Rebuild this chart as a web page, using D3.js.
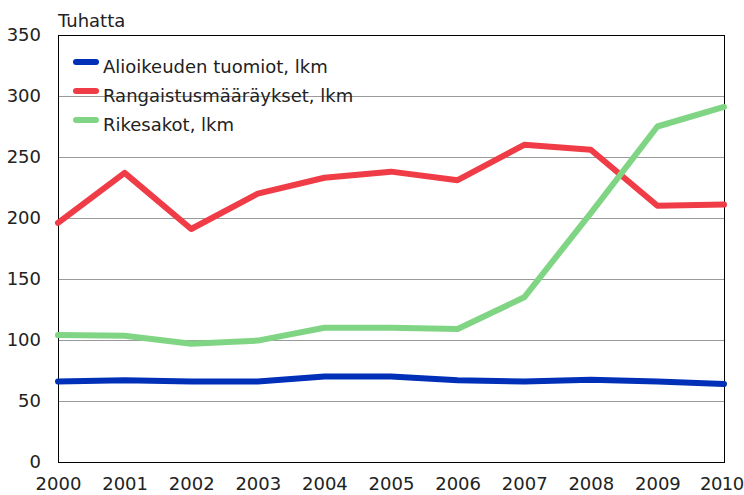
<!DOCTYPE html>
<html><head><meta charset="utf-8">
<script src="https://cdn.jsdelivr.net/npm/d3@7"></script>
<style>body{margin:0;background:#fff}svg{display:block}text{font-family:"DejaVu Sans",Verdana,sans-serif}</style>
</head><body>
<svg id="c" width="744" height="495"></svg>
<script>
const years = [2000,2001,2002,2003,2004,2005,2006,2007,2008,2009,2010];
const alioikeus = [66,67,66,66,70,70,67,66,67.5,66,64];
const rangaistus = [196,237,191,220,233,238,231,260,256,210,211];
const rikesakot = [104,103.5,97,99.5,110,110,109,135,204,275,291];
const yTicks = [0,50,100,150,200,250,300,350];
const seriesNames = ["Alioikeuden tuomiot, lkm","Rangaistusmääräykset, lkm","Rikesakot, lkm"];
const colors = ["#0030b8","#f03c46","#80d584"];

const FONT = "DejaVu Sans, Verdana, sans-serif";
const FS = 18;
const svg = d3.select("#c");
const L=58,R=724,T=35,B=462;
const x = d3.scaleLinear().domain([2000,2010]).range([L,R]);
const y = d3.scaleLinear().domain([0,350]).range([B,T]);

// gridlines
svg.append("g").selectAll("line").data(yTicks.filter(d=>d>0&&d<350)).join("line")
  .attr("x1",L).attr("x2",R).attr("y1",d=>y(d)+0.5).attr("y2",d=>y(d)+0.5)
  .attr("stroke","#9a9a9a").attr("stroke-width",1);

// frame
svg.append("rect").attr("x",L+0.5).attr("y",T+0.5).attr("width",R-L).attr("height",B-T)
  .attr("fill","none").attr("stroke","#000").attr("stroke-width",1);

// y axis labels
const ya = d3.axisLeft(y).tickValues(yTicks).tickSize(0).tickPadding(17);
const yg = svg.append("g").attr("transform",`translate(${L},0)`).call(ya);
yg.select(".domain").remove();
yg.selectAll("text").attr("font-size",FS).attr("fill","#222").attr("font-family",FONT);

// x axis labels
const xa = d3.axisBottom(x).tickValues(years).tickFormat(d3.format("d")).tickSize(0).tickPadding(15);
const xg = svg.append("g").attr("transform",`translate(0,${B})`).call(xa);
xg.select(".domain").remove();
xg.selectAll("text").attr("font-size",FS).attr("fill","#222").attr("font-family",FONT);
// keep last label inside the window
xg.selectAll(".tick").filter(d=>d===2010).select("text")
  .attr("text-anchor","end").attr("x",743-R).attr("letter-spacing",-0.6);

svg.append("text").attr("x",L).attr("y",27).attr("font-size",FS).attr("fill","#222").attr("font-family",FONT).text("Tuhatta");

const line = d3.line().x((d,i)=>x(years[i])).y(d=>y(d));
[alioikeus,rangaistus,rikesakot].forEach((s,k)=>{
  svg.append("path").datum(s).attr("d",line).attr("fill","none")
    .attr("stroke",colors[k]).attr("stroke-width",6).attr("stroke-linejoin","round").attr("stroke-linecap","round");
});

// legend
const lg = svg.append("g");
seriesNames.forEach((n,k)=>{
  const yy = 62 + k*29;
  lg.append("line").attr("x1",76).attr("x2",96).attr("y1",yy).attr("y2",yy)
    .attr("stroke",colors[k]).attr("stroke-width",6).attr("stroke-linecap","round");
  lg.append("text").attr("x",103).attr("y",yy+10.5).attr("font-size",FS).attr("fill","#222").attr("font-family",FONT).text(n);
});
</script>
</body></html>
